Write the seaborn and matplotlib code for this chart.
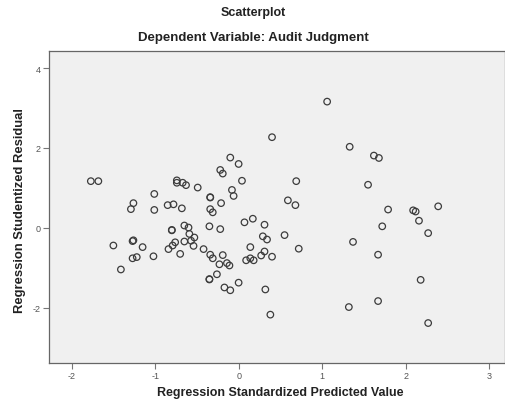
import pandas as pd
import matplotlib.pyplot as plt
import seaborn as sns

# values
predicted = [-1.77, -1.68, -1.01, -1.26, -1.29, -1.01, -0.85, -0.78, -0.68, -1.27,
             -1.26, -1.50, -1.15, -1.27, -1.22, -1.02, -1.41, -0.84, -0.80, -0.80,
             -0.79, -0.76, -0.70, -0.65, -0.65, -0.60, -0.59, -0.53, -0.57, -0.54,
             -0.42, -0.74, -0.74, -0.67, -0.63, -0.49, -0.34, -0.34, -0.21, -0.34,
             -0.31, -0.35, -0.22, -0.34, -0.31, -0.19, -0.23, -0.14, -0.11, -0.26,
             -0.35, -0.35, -0.17, -0.10, 0.00, -0.10, 0.00, -0.22, -0.19, 0.04,
             -0.08, -0.06, 0.07, 0.17, 0.31, 0.14, 0.09, 0.14, 0.18, 0.27,
             0.31, 0.29, 0.34, 0.32, 0.40, 0.69, 0.59, 0.68, 0.55, 0.72,
             0.40, 0.38, 1.06, 1.33, 1.62, 1.68, 1.55, 1.79, 1.72, 1.37,
             1.67, 1.67, 1.32, 2.09, 2.12, 2.39, 2.16, 2.27, 2.18, 2.27]
residual = [1.17, 1.17, 0.85, 0.62, 0.47, 0.45, 0.57, 0.59, 0.49, -0.33,
            -0.31, -0.44, -0.48, -0.76, -0.73, -0.71, -1.04, -0.53, -0.06, -0.05,
            -0.44, -0.36, -0.65, -0.34, 0.06, 0.01, -0.15, -0.24, -0.32, -0.45,
            -0.53, 1.19, 1.13, 1.13, 1.07, 1.01, 0.76, 0.77, 0.62, 0.47,
            0.39, 0.04, -0.03, -0.67, -0.76, -0.68, -0.91, -0.88, -0.94, -1.16,
            -1.29, -1.28, -1.49, -1.56, -1.37, 1.76, 1.60, 1.45, 1.36, 1.18,
            0.95, 0.80, 0.14, 0.23, 0.08, -0.48, -0.81, -0.76, -0.81, -0.69,
            -0.59, -0.21, -0.29, -1.54, 2.27, 1.17, 0.69, 0.57, -0.18, -0.52,
            -0.72, -2.17, 3.16, 2.03, 1.81, 1.75, 1.08, 0.46, 0.04, -0.35,
            -0.67, -1.83, -1.98, 0.44, 0.41, 0.54, 0.18, -0.13, -1.30, -2.38]
x_ticks = [-2, -1, 0, 1, 2, 3]
y_ticks = [-2, 0, 2, 4]

df = pd.DataFrame({'pred': predicted, 'resid': residual})

sns.set_theme(style="white")
plt.rcParams['font.family'] = ['Liberation Sans', 'DejaVu Sans']
plt.rcParams['axes.unicode_minus'] = False

fig = plt.figure(figsize=(5.06, 4.02), dpi=100)
ax = fig.add_axes([0.097, 0.095, 0.901, 0.776])
ax.set_facecolor('#f0f0f0')

sns.scatterplot(data=df, x='pred', y='resid', ax=ax, s=22,
                facecolors='none', edgecolor='#3c3c3c', linewidth=0.9)

ax.set_xlim(-2.27, 3.19)
ax.set_ylim(-3.375, 4.43)
ax.set_xticks(x_ticks)
ax.set_yticks(y_ticks)
ax.tick_params(axis='both', direction='out', length=4, width=0.8, color='#777777',
               labelsize=6.5, labelcolor='#555555', pad=2)
ax.tick_params(left=True, bottom=True)
for side in ax.spines.values():
    side.set_color('#666666')
    side.set_linewidth(0.9)
ax.set_xlabel('')
ax.set_ylabel('')

# titles and axis labels, SPSS style
fig.text(0.5, 1 - 13 / 402, 'Scatterplot', ha='center', va='center',
         fontsize=9, fontweight='bold', color='#222222')
fig.text(0.5, 1 - 38 / 402, 'Dependent Variable: Audit Judgment', ha='center', va='center',
         fontsize=9.5, fontweight='bold', color='#222222')
fig.text(0.553, 1 - 393 / 402, 'Regression Standardized Predicted Value', ha='center',
         va='center', fontsize=9, fontweight='bold', color='#222222')
fig.text(20 / 506, 1 - 211 / 402, 'Regression Studentized Residual', ha='center',
         va='center', rotation=90, fontsize=9.4, fontweight='bold', color='#222222')

plt.savefig('out.png', dpi=100)
